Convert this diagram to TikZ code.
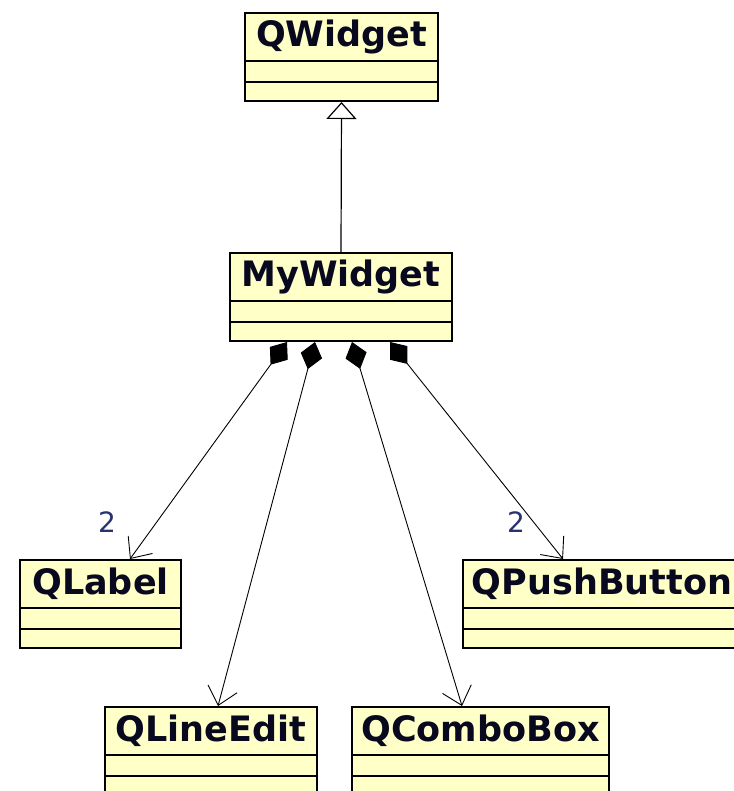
\documentclass[tikz,border=0pt]{standalone}
\usepackage{fontspec}
\setmainfont{DejaVu Sans}
\usetikzlibrary{arrows.meta, positioning, calc}

\definecolor{classfill}{RGB}{255,255,200}
\definecolor{classtext}{RGB}{8,8,30}
\definecolor{multtext}{RGB}{40,50,110}

\begin{document}
\begin{tikzpicture}[
        x=1pt, y=-1pt,
        classbox/.style={draw=black, line width=2pt, fill=classfill, anchor=north west, minimum height=88pt, inner sep=0pt},
        divider/.style={line width=1.6pt},
        classname/.style={font=\fontsize{35}{40}\selectfont\bfseries, text=classtext, anchor=base},
        mult/.style={font=\fontsize{28}{32}\selectfont, text=multtext},
        inherit/.style={line width=1.2pt, -{Triangle[open, length=17pt, width=30pt, line width=1.2pt]}},
        compose/.style={line width=0.9pt, {Diamond[length=28pt, width=22pt]}-{Straight Barb[length=17pt, width=30pt, line width=0.9pt]}}
    ]

    \useasboundingbox (0,0) rectangle (733,791);

    % Classes: name / x / y / width / title
    \foreach \n/\x/\y/\w/\t in {qwidget/244/12/193/QWidget, mywidget/229/252/222/MyWidget,
                                qlabel/19/559/161/QLabel, qpushbutton/462/559/278/QPushButton,
                                qlineedit/104/706/212/QLineEdit, qcombobox/351/706/257/QComboBox} {
        \node[classbox, minimum width=\w pt] (\n) at (\x,\y) {};
        \node[classname] (\n-title) at ($(\n.north)+(0,35)$) {\t};
        \draw[divider] ($(\n.north west)+(0,49)$) -- ($(\n.north east)+(0,49)$);
        \draw[divider] ($(\n.north west)+(0,70)$) -- ($(\n.north east)+(0,70)$);
    }

    % Inheritance
    \draw[inherit] (mywidget.north) -- (qwidget.south);

    % Composition ends below MyWidget
    \coordinate (p1) at ($(mywidget.south west)+(58,0)$);
    \coordinate (p2) at ($(mywidget.south west)+(86,0)$);
    \coordinate (p3) at ($(mywidget.south west)+(123,0)$);
    \coordinate (p4) at ($(mywidget.south west)+(161,0)$);

    \draw[compose] (p1) -- ($(qlabel.north west)+(111,0)$);
    \draw[compose] (p2) -- ($(qlineedit.north west)+(114,0)$);
    \draw[compose] (p3) -- ($(qcombobox.north west)+(111,0)$);
    \draw[compose] (p4) -- ($(qpushbutton.north west)+(101,0)$);

    % Multiplicities
    \node[mult] (m-label) at (107,522) {2};
    \node[mult] (m-button) at (516,522) {2};

\end{tikzpicture}
\end{document}
